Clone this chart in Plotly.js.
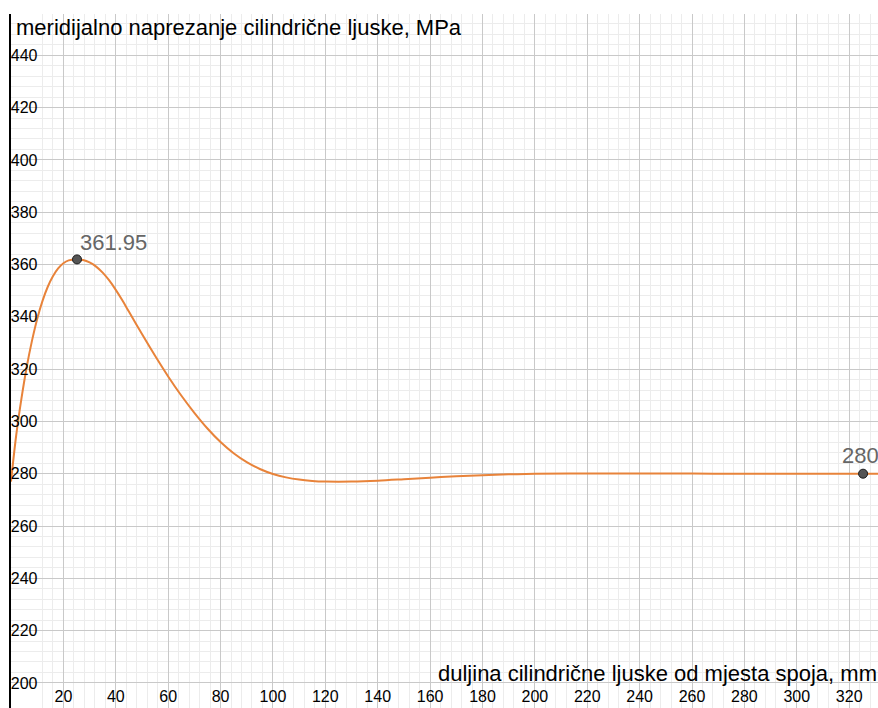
<!DOCTYPE html>
<html>
<head>
<meta charset="utf-8">
<script src="https://cdn.plot.ly/plotly-3.0.1.min.js"></script>
<style>html,body{margin:0;padding:0;background:#fff;}#chart{width:878px;height:708px;}</style>
</head>
<body>
<div id="chart"></div>
<script>
// Curve: distance (mm) vs meridional stress (MPa)
const distance = [0, 2, 4, 6, 8, 10, 12, 14, 16, 18, 20, 22, 25, 27.5, 30, 32.5, 35, 37.5, 40, 42.5, 45, 50, 55, 60, 65, 70, 75, 80, 85, 90, 95, 100, 105, 110, 115, 120, 125, 130, 140, 150, 160, 170, 180, 190, 200, 220, 240, 260, 280, 300, 331];
const stress = [277, 294.8, 308.8, 320.8, 330.8, 339.2, 346.0, 351.4, 355.5, 358.5, 360.5, 361.6, 361.95, 361.7, 360.8, 359.2, 356.9, 353.9, 350.3, 346.3, 342.0, 333.4, 325.1, 317.2, 309.9, 303.3, 297.3, 292.1, 287.8, 284.4, 281.8, 279.9, 278.6, 277.75, 277.25, 277.0, 276.95, 277.0, 277.35, 277.9, 278.5, 279.05, 279.45, 279.75, 279.95, 280.1, 280.1, 280.05, 280.0, 280.0, 280.0];

const pointX = [25.2, 325.3];
const pointY = [361.95, 280];
const pointLabels = ["361.95", "280"];

const xTicks = [20, 40, 60, 80, 100, 120, 140, 160, 180, 200, 220, 240, 260, 280, 300, 320];
const yTicks = [200, 220, 240, 260, 280, 300, 320, 340, 360, 380, 400, 420, 440];

const yTitle = "meridijalno naprezanje cilindrične ljuske, MPa";
const xTitle = "duljina cilindrične ljuske od mjesta spoja, mm";

const FONT = "Liberation Sans, Arial, sans-serif";

const traces = [
  {
    x: distance, y: stress, type: "scatter", mode: "lines",
    line: {color: "#e8833a", width: 2, shape: "spline", smoothing: 1},
    hoverinfo: "skip"
  },
  {
    x: pointX, y: pointY, type: "scatter", mode: "markers",
    marker: {color: "#555555", size: 9, line: {color: "#1a1a1a", width: 1}},
    hoverinfo: "skip"
  }
];

const layout = {
  width: 878, height: 708,
  margin: {l: 11, r: 0, t: 14, b: 0, pad: 0},
  paper_bgcolor: "#ffffff", plot_bgcolor: "#ffffff",
  showlegend: false,
  font: {family: FONT, color: "#000"},
  xaxis: {
    range: [0, 331.0],
    tickmode: "array", tickvals: xTicks, ticktext: xTicks.map(String),
    ticklabelposition: "inside", ticks: "",
    tickfont: {family: FONT, size: 16, color: "#000"},
    showgrid: true, gridcolor: "#c9c9c9", gridwidth: 1,
    minor: {dtick: 4, tick0: 0, showgrid: true, gridcolor: "#ececec", gridwidth: 1},
    zeroline: false, showline: false,
    fixedrange: true
  },
  yaxis: {
    range: [190.4, 455.8],
    tickmode: "array", tickvals: yTicks, ticktext: yTicks.map(String),
    ticklabelposition: "inside", ticks: "",
    tickfont: {family: FONT, size: 16, color: "#000"},
    showgrid: true, gridcolor: "#c9c9c9", gridwidth: 1,
    minor: {dtick: 4, tick0: 200, showgrid: true, gridcolor: "#ececec", gridwidth: 1},
    zeroline: false, showline: true, linecolor: "#000", linewidth: 2,
    fixedrange: true
  },
  annotations: [
    {text: yTitle, xref: "paper", yref: "paper", x: 0.003, y: 1.0, xanchor: "left", yanchor: "middle",
     yshift: -13, showarrow: false, font: {family: FONT, size: 22, color: "#000"}},
    {text: xTitle, xref: "paper", yref: "paper", x: 1.0, y: 0, xanchor: "right", yanchor: "middle",
     xshift: 1, yshift: 35, showarrow: false, font: {family: FONT, size: 22, color: "#000"}},
    {text: pointLabels[0], x: pointX[0], y: pointY[0], xanchor: "left", yanchor: "bottom",
     xshift: 1, yshift: 2, showarrow: false, font: {family: FONT, size: 22, color: "#666666"}},
    {text: pointLabels[1], x: pointX[1], y: pointY[1], xanchor: "center", yanchor: "bottom",
     xshift: -3, yshift: 4, showarrow: false, font: {family: FONT, size: 22, color: "#666666"}}
  ]
};

Plotly.newPlot("chart", traces, layout, {staticPlot: true, displayModeBar: false});
</script>
</body>
</html>
